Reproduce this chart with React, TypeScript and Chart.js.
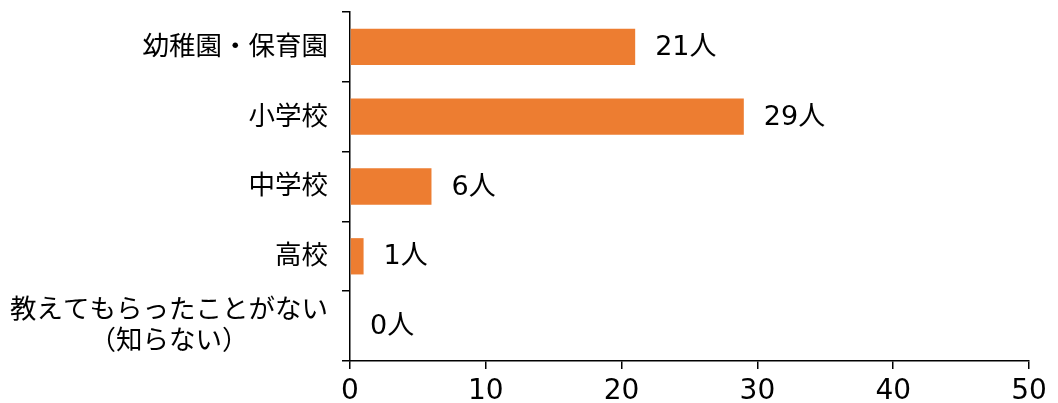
import React, { useEffect, useRef } from "react";
import { Chart, registerables } from "chart.js";

Chart.register(...registerables);

const categories: (string | string[])[] = [
  "幼稚園・保育園",
  "小学校",
  "中学校",
  "高校",
  ["教えてもらったことがない", "（知らない）"],
];
const values: number[] = [21, 29, 6, 1, 0];
const unit = "人";
const xTicks = { min: 0, max: 50, step: 10 };

const FONT = '"DejaVu Sans", "Noto Sans CJK JP", sans-serif';

const valueLabels = {
  id: "valueLabels",
  afterDatasetsDraw(chart: any) {
    const ctx = chart.ctx;
    const meta = chart.getDatasetMeta(0);
    ctx.save();
    ctx.font = `27px ${FONT}`;
    ctx.fillStyle = "#000";
    ctx.textAlign = "left";
    ctx.textBaseline = "middle";
    meta.data.forEach((el: any, i: number) => {
      ctx.fillText(`${values[i]}${unit}`, el.x + 20, el.y + 1);
    });
    ctx.restore();
  },
};

const categoryLabels = {
  id: "categoryLabels",
  afterDraw(chart: any) {
    const ctx = chart.ctx;
    const scale = chart.scales.y;
    const right = scale.right - 22;
    const lineH = 31;
    ctx.save();
    ctx.font = `26.5px ${FONT}`;
    ctx.fillStyle = "#000";
    ctx.textBaseline = "middle";
    categories.forEach((lab, i) => {
      const y = scale.getPixelForTick(i) + 1;
      const lines = Array.isArray(lab) ? lab : [lab];
      if (lines.length === 1) {
        ctx.textAlign = "right";
        ctx.fillText(lines[0], right, y);
      } else {
        const widest = Math.max(...lines.map((l) => ctx.measureText(l).width));
        const cx = right - widest / 2;
        ctx.textAlign = "center";
        lines.forEach((l, j) => {
          ctx.fillText(l, cx, y + (j - (lines.length - 1) / 2) * lineH);
        });
      }
    });
    ctx.restore();
  },
};

export default function App() {
  const ref = useRef<HTMLCanvasElement>(null);
  useEffect(() => {
    if (!ref.current) return;
    const chart = new Chart(ref.current, {
      type: "bar",
      data: {
        labels: categories,
        datasets: [
          {
            data: values,
            backgroundColor: "#ED7D31",
            borderWidth: 0,
            categoryPercentage: 1,
            barPercentage: 0.52,
          },
        ],
      },
      options: {
        indexAxis: "y",
        animation: false,
        responsive: false,
        devicePixelRatio: 1,
        layout: { padding: { top: 12, right: 29, left: 0, bottom: 0 } },
        plugins: { legend: { display: false }, tooltip: { enabled: false } },
        scales: {
          x: {
            min: xTicks.min,
            max: xTicks.max,
            ticks: {
              stepSize: xTicks.step,
              color: "#000",
              font: { family: FONT, size: 28 },
              padding: 6,
              maxRotation: 0,
            },
            grid: { drawOnChartArea: false, tickLength: 8, color: "#000", lineWidth: 1.5 },
            border: { color: "#000", width: 1.5 },
            afterFit(scale: any) {
              scale.height = 42;
              scale.paddingLeft = 0;
              scale.paddingRight = 0;
            },
          },
          y: {
            ticks: { display: false, autoSkip: false },
            grid: { drawOnChartArea: false, tickLength: 8, color: "#000", lineWidth: 1.5, offset: true },
            border: { color: "#000", width: 1.5 },
            afterFit(scale: any) {
              scale.width = 350;
              scale.paddingTop = 0;
              scale.paddingBottom = 0;
            },
          },
        },
      },
      plugins: [valueLabels, categoryLabels],
    });
    return () => chart.destroy();
  }, []);
  return (
    <div style={{ position: "absolute", left: 0, top: 0, width: 1058, height: 403, background: "#fff" }}>
      <canvas ref={ref} width={1058} height={403} style={{ width: 1058, height: 403 }} />
    </div>
  );
}
